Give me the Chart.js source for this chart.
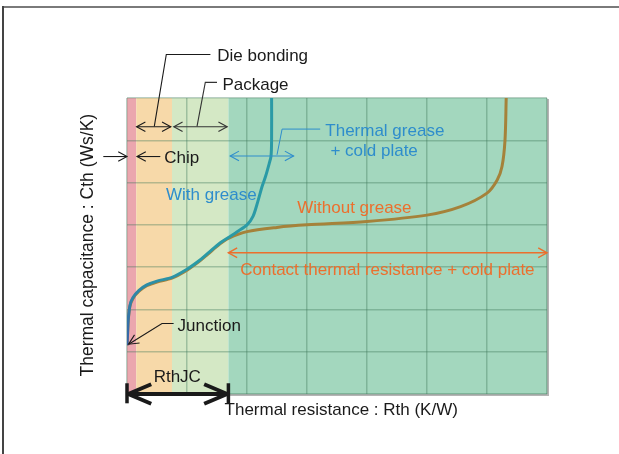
<!DOCTYPE html>
<html>
<head>
<meta charset="utf-8">
<script src="https://cdn.jsdelivr.net/npm/chart.js@4.4.1/dist/chart.umd.min.js"></script>
<style>
  html, body { margin: 0; padding: 0; background: #fff; }
  #wrap { width: 619px; height: 454px; }
</style>
</head>
<body>
<div id="wrap"><canvas id="structureFunction" width="619" height="454"></canvas></div>
<script>
// structure function: Rth (K/W) along x, Cth (Ws/K) up the y axis
const greaseRth = [0.00, 0.01, 0.02, 0.05, 0.10, 0.20, 0.33, 0.50, 0.75, 1.00, 1.20, 1.35, 1.55, 1.69, 1.85, 2.00, 2.10, 2.18, 2.25, 2.31, 2.37, 2.40, 2.41, 2.41];
const greaseCth = [1.15, 1.45, 1.75, 2.10, 2.28, 2.45, 2.58, 2.67, 2.76, 2.95, 3.15, 3.33, 3.57, 3.70, 3.85, 4.00, 4.20, 4.55, 4.90, 5.15, 5.45, 5.62, 6.00, 7.00];

const noGreaseRth = [0.00, 0.01, 0.02, 0.05, 0.10, 0.20, 0.33, 0.50, 0.75, 1.00, 1.20, 1.35, 1.55, 1.69, 2.00, 2.50, 3.00, 4.00, 5.00, 5.56, 6.00, 6.17, 6.25, 6.30, 6.32];
const noGreaseCth = [1.15, 1.44, 1.73, 2.08, 2.26, 2.43, 2.56, 2.65, 2.74, 2.93, 3.13, 3.31, 3.55, 3.68, 3.84, 3.94, 4.00, 4.08, 4.23, 4.43, 4.75, 5.06, 5.38, 6.00, 7.00];

// regions along the Rth axis: chip, die bonding, package, cooling side
const regionEdges = [0, 0.155, 0.75, 1.69, 7];
const regionColors = ["#eba6ae", "#f7d9a9", "#d4e8c5", "#a3d7be"];

const axisMax = 7;

const FONT = '17px "Liberation Sans", Arial, sans-serif';
const BLACK = "#1a1a1a";
const BLUE = "#2e8dcc";
const ORANGE = "#ec6f2d";

function toPoints(xs, ys) {
    return xs.map((x, i) => ({ x: x, y: ys[i] }));
}

function head(ctx, x, y, ang, len, spread) {
    ctx.beginPath();
    ctx.moveTo(x + len * Math.cos(ang + spread), y + len * Math.sin(ang + spread));
    ctx.lineTo(x, y);
    ctx.lineTo(x + len * Math.cos(ang - spread), y + len * Math.sin(ang - spread));
    ctx.stroke();
}

const bands = {
    id: "bands",
    beforeDraw(chart) {
        const { ctx, chartArea, scales } = chart;
        ctx.save();
        for (let i = 0; i < regionColors.length; i++) {
            const x0 = scales.x.getPixelForValue(regionEdges[i]);
            const x1 = scales.x.getPixelForValue(regionEdges[i + 1]);
            ctx.fillStyle = regionColors[i];
            ctx.fillRect(x0, chartArea.top, x1 - x0, chartArea.bottom - chartArea.top);
        }
        // light shadow on the right and bottom of the plot
        ctx.fillStyle = "#b4b4b4";
        ctx.fillRect(chartArea.right, chartArea.top + 1, 2, chartArea.bottom - chartArea.top + 1);
        ctx.fillRect(chartArea.left + 1, chartArea.bottom, chartArea.right - chartArea.left + 1, 2);
        // page frame
        ctx.fillStyle = "#7a7a7a";
        ctx.fillRect(3, 6, chart.width, 2);
        ctx.fillStyle = "#444";
        ctx.fillRect(2, 6, 2, chart.height);
        ctx.restore();
    }
};

const notes = {
    id: "notes",
    afterDatasetsDraw(chart) {
        const { ctx, scales } = chart;
        const X = v => scales.x.getPixelForValue(v);
        const Y = v => scales.y.getPixelForValue(v);

        function line(pts, color, w) {
            ctx.strokeStyle = color;
            ctx.lineWidth = w || 1.1;
            ctx.beginPath();
            pts.forEach((p, i) => i ? ctx.lineTo(X(p[0]), Y(p[1])) : ctx.moveTo(X(p[0]), Y(p[1])));
            ctx.stroke();
        }
        function dbl(x0, x1, y, color, w) {
            line([[x0, y], [x1, y]], color, w);
            head(ctx, X(x0), Y(y), 0, 10, 0.5);
            head(ctx, X(x1), Y(y), Math.PI, 10, 0.5);
        }
        function text(s, x, y, color, align) {
            ctx.fillStyle = color;
            ctx.font = FONT;
            ctx.textAlign = align || "left";
            ctx.textBaseline = "middle";
            ctx.fillText(s, X(x), Y(y));
        }

        ctx.save();
        ctx.lineCap = "butt";
        ctx.lineJoin = "miter";

        // die bonding
        line([[1.39, 8.03], [0.655, 8.03], [0.455, 6.33]], BLACK);
        dbl(0.16, 0.73, 6.32, BLACK);
        text("Die bonding", 1.505, 7.98, BLACK);

        // package
        line([[1.5, 7.37], [1.305, 7.37], [1.167, 6.33]], "#333");
        dbl(0.78, 1.67, 6.32, "#333");
        text("Package", 1.59, 7.29, BLACK);

        // chip
        line([[-0.395, 5.616], [0, 5.616]], BLACK);
        head(ctx, X(0), Y(5.616), Math.PI, 10, 0.5);
        line([[0.555, 5.616], [0.167, 5.616]], BLACK);
        head(ctx, X(0.167), Y(5.616), 0, 10, 0.5);
        text("Chip", 0.62, 5.585, BLACK);

        // thermal grease + cold plate
        line([[3.22, 6.265], [2.585, 6.265], [2.5, 5.656]], BLUE, 1);
        dbl(1.72, 2.777, 5.63, BLUE);
        text("Thermal grease", 3.305, 6.21, BLUE);
        text("+ cold plate", 3.39, 5.735, BLUE);
        text("With grease", 1.405, 4.71, BLUE, "center");

        // contact resistance
        text("Without grease", 3.79, 4.40, ORANGE, "center");
        dbl(1.69, 7.0, 3.34, ORANGE, 1.4);
        text("Contact thermal resistance + cold plate", 4.34, 2.93, ORANGE, "center");

        // junction
        line([[0.777, 1.668], [0.583, 1.668], [0.027, 1.178]], BLACK);
        const ang = Math.atan2(Y(1.668) - Y(1.178), X(0.583) - X(0.027));
        head(ctx, X(0.027), Y(1.178), ang, 11, 0.45);
        text("Junction", 0.843, 1.604, BLACK);

        // RthJC span
        text("RthJC", 0.838, 0.396, BLACK, "center");
        ctx.lineJoin = "round";
        line([[0.02, 0.0], [1.67, 0.0]], BLACK, 4);
        ctx.lineWidth = 4;
        head(ctx, X(0.02), Y(0), 0, 25, 0.4);
        head(ctx, X(1.67), Y(0), Math.PI, 25, 0.4);
        line([[0, 0.254], [0, -0.22]], BLACK, 3.5);
        line([[1.69, 0.254], [1.69, -0.22]], BLACK, 3.5);

        // axis titles
        text("Thermal resistance : Rth (K/W)", 3.57, -0.386, BLACK, "center");
        ctx.save();
        ctx.translate(X(-0.645), Y(3.52));
        ctx.rotate(-Math.PI / 2);
        ctx.fillStyle = BLACK;
        ctx.font = '17.5px "Liberation Sans", Arial, sans-serif';
        ctx.textAlign = "center";
        ctx.textBaseline = "middle";
        ctx.fillText("Thermal capacitance : Cth (Ws/K)", 0, 0);
        ctx.restore();

        ctx.restore();
    }
};

const gridStyle = {
    color: "rgba(60,120,90,0.36)",
    lineWidth: 1.5,
    drawTicks: false
};

new Chart("structureFunction", {
    type: "line",
    data: {
        datasets: [{
            label: "With grease",
            data: toPoints(greaseRth, greaseCth),
            borderColor: function (context) {
                const chart = context.chart;
                if (!chart.chartArea) return "#2a9aa6";
                const y = chart.scales.y;
                const g = chart.ctx.createLinearGradient(0, y.getPixelForValue(1.1), 0, y.getPixelForValue(3.0));
                g.addColorStop(0, "#3a5ea8");
                g.addColorStop(1, "#2a9aa6");
                return g;
            },
            borderWidth: 3,
            pointRadius: 0,
            tension: 0.3,
            fill: false
        }, {
            label: "Without grease",
            data: toPoints(noGreaseRth, noGreaseCth),
            borderColor: "#a5823a",
            borderWidth: 3,
            pointRadius: 0,
            tension: 0.3,
            fill: false
        }]
    },
    options: {
        responsive: false,
        animation: false,
        layout: { padding: { left: 127, right: 72, top: 98, bottom: 60 } },
        plugins: {
            legend: { display: false },
            tooltip: { enabled: false }
        },
        scales: {
            x: {
                type: "linear",
                min: 0,
                max: axisMax,
                ticks: { display: false, stepSize: 1 },
                grid: gridStyle,
                border: { display: false }
            },
            y: {
                type: "linear",
                min: 0,
                max: axisMax,
                ticks: { display: false, stepSize: 1 },
                grid: gridStyle,
                border: { display: false }
            }
        }
    },
    plugins: [bands, notes]
});
</script>
</body>
</html>
